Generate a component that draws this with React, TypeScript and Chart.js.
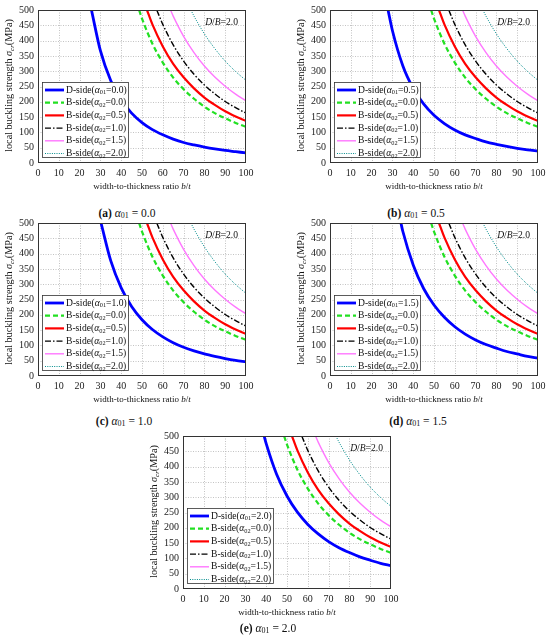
import { useEffect, useRef } from "react";
import { Chart, registerables } from "chart.js";

Chart.register(...registerables);

const btGrid = [30, 35, 40, 45, 50, 55, 60, 65, 70, 75, 80, 85, 90, 95, 100];

// D-side strength (MPa), one curve per alpha01, aligned to the tail of btGrid
const dSide00 = [367, 269, 206, 163, 132, 109, 92, 78, 67, 59, 52, 46, 41, 37, 33];
const dSide05 = [433, 318, 244, 193, 156, 129, 108, 92, 80, 69, 61, 54, 48, 43, 39];
const dSide10 = [376, 288, 227, 184, 152, 128, 109, 94, 82, 72, 64, 57, 51, 46];
const dSide15 = [473, 363, 286, 232, 192, 161, 137, 118, 103, 91, 80, 72, 64, 58];
const dSide20 = [475, 375, 304, 251, 211, 180, 155, 135, 119, 105, 94, 84, 76];
// b/t where each D-side curve comes in at 500 MPa
const dStart = [25.7, 27.9, 30.3, 34.1, 39.0];

// B-side strength (MPa), same in every panel
const bSide00 = [472, 390, 328, 279, 241, 210, 184, 163, 146, 131, 118];
const bSide05 = [453, 381, 324, 280, 244, 214, 190, 169, 152, 137];
const bSide10 = [453, 386, 333, 290, 255, 226, 201, 181, 163];
const bSide15 = [480, 414, 361, 317, 281, 251, 225, 203];
const bSide20 = [480, 422, 374, 333, 299, 270];
const bStart = [48.6, 52.4, 57.1, 63.7, 73.5];

const alpha01 = ["0.0", "0.5", "1.0", "1.5", "2.0"];
const alpha02 = ["0.0", "0.5", "1.0", "1.5", "2.0"];
const panelLetters = ["a", "b", "c", "d", "e"];

const dCurves = [dSide00, dSide05, dSide10, dSide15, dSide20];
const bCurves = [bSide00, bSide05, bSide10, bSide15, bSide20];

const xTicks = { min: 0, max: 100, step: 10 };
const yTicks = { min: 0, max: 500, step: 50 };

const serif = '"Liberation Serif", "Times New Roman", serif';

const dStyle = { color: "#0000ff", width: 2.8, dash: [] as number[] };
const bStyles = [
  { color: "#22e022", width: 2.2, dash: [5, 3] },
  { color: "#ff0000", width: 2.2, dash: [] as number[] },
  { color: "#000000", width: 1.4, dash: [6, 2, 1.5, 2] },
  { color: "#ff77ff", width: 1.4, dash: [] as number[] },
  { color: "#008c8c", width: 1, dash: [1, 1.3] },
];

// canvas box and plot area inside it
const W = 258;
const H = 200;
const PL = 38;
const PT = 9;
const PR = 246;
const PB = 163;

const panels = [
  { left: 0, top: 0, capX: 127, capY: 213 },
  { left: 292, top: 0, capX: 416, capY: 213 },
  { left: 0, top: 213, capX: 124, capY: 421 },
  { left: 292, top: 213, capX: 418, capY: 421 },
  { left: 145, top: 426, capX: 268, capY: 628 },
];

type Run = { t: string; style?: string; size?: number; dy?: number };

const fontOf = (r: Run, base: number) =>
  `${r.style || "normal"} ${r.size || base}px ${serif}`;

function runsWidth(ctx: CanvasRenderingContext2D, runs: Run[], base: number) {
  let w = 0;
  for (const r of runs) {
    ctx.font = fontOf(r, base);
    w += ctx.measureText(r.t).width;
  }
  return w;
}

function drawRuns(
  ctx: CanvasRenderingContext2D,
  runs: Run[],
  x: number,
  y: number,
  base: number,
  align: "left" | "center" | "right" = "left"
) {
  const w = runsWidth(ctx, runs, base);
  let cx = align === "left" ? x : align === "center" ? x - w / 2 : x - w;
  ctx.textAlign = "left";
  ctx.textBaseline = "middle";
  for (const r of runs) {
    ctx.font = fontOf(r, base);
    ctx.fillText(r.t, cx, y + (r.dy || 0));
    cx += ctx.measureText(r.t).width;
  }
}

const toPoints = (start: number, vals: number[]) => [
  { x: start, y: 500 },
  ...btGrid.slice(btGrid.length - vals.length).map((x, i) => ({ x, y: vals[i] })),
];

function Panel({ index }: { index: number }) {
  const canvasRef = useRef<HTMLCanvasElement | null>(null);
  const pos = panels[index];

  useEffect(() => {
    const ctx = canvasRef.current!.getContext("2d")!;

    const legendRows = [
      { style: dStyle, label: "D-side(", sub: "01", val: alpha01[index] },
      ...bStyles.map((s, i) => ({ style: s, label: "B-side(", sub: "02", val: alpha02[i] })),
    ];

    const datasets = [
      {
        data: toPoints(dStart[index], dCurves[index]),
        borderColor: dStyle.color,
        borderWidth: dStyle.width,
        borderDash: dStyle.dash,
      },
      ...bCurves.map((c, i) => ({
        data: toPoints(bStart[i], c),
        borderColor: bStyles[i].color,
        borderWidth: bStyles[i].width,
        borderDash: bStyles[i].dash,
      })),
    ].map((d) => ({
      ...d,
      showLine: true,
      pointRadius: 0,
      cubicInterpolationMode: "monotone" as const,
      fill: false,
    }));

    const decor = {
      id: "decor",
      beforeDatasetsDraw(chart: Chart) {
        const c = chart.ctx;
        const a = chart.chartArea;
        const xs = chart.scales.x;
        const ys = chart.scales.y;
        c.save();
        c.strokeStyle = "#b4b4b4";
        c.lineWidth = 0.8;
        c.setLineDash([1, 1.5]);
        for (let v = xTicks.min + xTicks.step; v < xTicks.max; v += xTicks.step) {
          const px = Math.round(xs.getPixelForValue(v)) + 0.5;
          c.beginPath();
          c.moveTo(px, a.top);
          c.lineTo(px, a.bottom);
          c.stroke();
        }
        for (let v = yTicks.min + yTicks.step; v < yTicks.max; v += yTicks.step) {
          const py = Math.round(ys.getPixelForValue(v)) + 0.5;
          c.beginPath();
          c.moveTo(a.left, py);
          c.lineTo(a.right, py);
          c.stroke();
        }
        c.restore();
      },
      afterDatasetsDraw(chart: Chart) {
        const c = chart.ctx;
        const a = chart.chartArea;
        c.save();
        // frame
        c.setLineDash([]);
        c.strokeStyle = "#333";
        c.lineWidth = 1;
        c.strokeRect(a.left + 0.5, a.top + 0.5, a.right - a.left - 1, a.bottom - a.top - 1);

        // legend
        const lx = a.left + 4;
        const ly = a.top + 72;
        const lw = 86;
        const lh = a.bottom - 6 - ly;
        c.fillStyle = "#fff";
        c.fillRect(lx, ly, lw, lh);
        c.strokeStyle = "#333";
        c.lineWidth = 0.8;
        c.strokeRect(lx + 0.5, ly + 0.5, lw, lh);
        legendRows.forEach((row, i) => {
          const ry = ly + 8 + i * 12.7;
          c.strokeStyle = row.style.color;
          c.lineWidth = row.style.width;
          c.setLineDash(row.style.dash);
          c.beginPath();
          c.moveTo(lx + 3, ry);
          c.lineTo(lx + 22, ry);
          c.stroke();
          c.setLineDash([]);
          c.fillStyle = "#111";
          drawRuns(
            c,
            [
              { t: row.label },
              { t: "α", style: "italic" },
              { t: row.sub, size: 6.3, dy: 2.5 },
              { t: "=" + row.val + ")" },
            ],
            lx + 24,
            ry,
            9.6
          );
        });

        // D/B label
        c.fillStyle = "#111";
        drawRuns(
          c,
          [{ t: "D", style: "italic" }, { t: "/" }, { t: "B", style: "italic" }, { t: "=2.0" }],
          a.right - 8,
          a.top + 12,
          9.6,
          "right"
        );

        // axis titles
        drawRuns(
          c,
          [{ t: "width-to-thickness ratio " }, { t: "b", style: "italic" }, { t: "/" }, { t: "t", style: "italic" }],
          (a.left + a.right) / 2,
          a.bottom + 24,
          9,
          "center"
        );
        c.translate(9, (a.top + a.bottom) / 2 - 1);
        c.rotate(-Math.PI / 2);
        drawRuns(
          c,
          [
            { t: "local buckling strength " },
            { t: "σ", style: "italic" },
            { t: "cr", style: "italic", size: 6.8, dy: 2.8 },
            { t: "(MPa)" },
          ],
          0,
          0,
          10.2,
          "center"
        );
        c.restore();
      },
    };

    const chart = new Chart(ctx, {
      type: "scatter",
      data: { datasets },
      options: {
        animation: false,
        responsive: true,
        maintainAspectRatio: false,
        layout: { padding: { top: PT, right: W - PR, left: 0, bottom: 0 } },
        plugins: { legend: { display: false }, tooltip: { enabled: false } },
        scales: {
          x: {
            type: "linear",
            min: xTicks.min,
            max: xTicks.max,
            ticks: { stepSize: xTicks.step, padding: 4, maxRotation: 0, color: "#222", font: { family: serif, size: 10 } },
            grid: { display: false, drawTicks: false },
            border: { display: false },
            afterFit: (s: any) => {
              s.height = H - PB;
            },
          },
          y: {
            type: "linear",
            min: yTicks.min,
            max: yTicks.max,
            ticks: { stepSize: yTicks.step, padding: 4, color: "#222", font: { family: serif, size: 10 } },
            grid: { display: false, drawTicks: false },
            border: { display: false },
            afterFit: (s: any) => {
              s.width = PL;
            },
          },
        },
      },
      plugins: [decor],
    });

    return () => chart.destroy();
  }, [index]);

  return (
    <>
      <div style={{ position: "absolute", left: pos.left, top: pos.top, width: W, height: H }}>
        <canvas ref={canvasRef} />
      </div>
      <div
        style={{
          position: "absolute",
          left: pos.capX,
          top: pos.capY - 8,
          transform: "translateX(-50%)",
          fontSize: 11.5,
          lineHeight: "16px",
          whiteSpace: "nowrap",
          fontFamily: serif,
          color: "#111",
        }}
      >
        <b>({panelLetters[index]})</b> <i>α</i>
        <span style={{ fontSize: 8, verticalAlign: "-1px" }}>01</span> = {alpha01[index]}
      </div>
    </>
  );
}

export default function App() {
  return (
    <div
      style={{
        position: "absolute",
        left: 0,
        top: 0,
        width: 550,
        height: 641,
        background: "#fff",
        overflow: "hidden",
      }}
    >
      {panels.map((_, i) => (
        <Panel key={i} index={i} />
      ))}
    </div>
  );
}
